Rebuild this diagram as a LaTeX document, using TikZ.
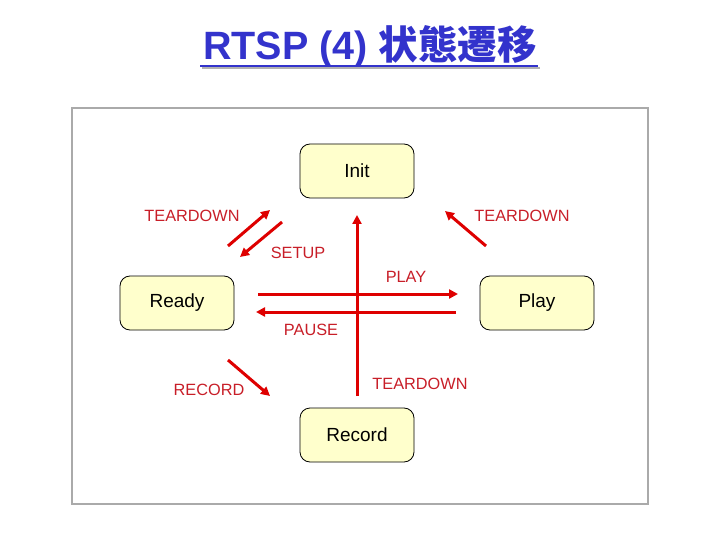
\documentclass[tikz,border=0pt]{standalone}
\usepackage{fontspec}
\setmainfont{Liberation Sans}
\newfontfamily\cjkfont{Noto Sans CJK JP}
\usetikzlibrary{arrows.meta,shadows}
\definecolor{boxfill}{RGB}{255,255,204}
\definecolor{arrowred}{RGB}{222,0,0}
\definecolor{labelred}{RGB}{200,30,40}
\definecolor{titleblue}{RGB}{51,51,204}
\definecolor{framegray}{RGB}{170,170,170}
\tikzset{
  statebox/.style={draw=black, line width=0.8pt, fill=boxfill, rounded corners=10pt,
    minimum width=114pt, minimum height=54pt, inner sep=0pt, font=\fontsize{19}{22}\selectfont},
  tr/.style={draw=arrowred, line width=3pt, -{Triangle[length=9pt,width=9pt]}},
  lbl/.style={text=labelred, font=\fontsize{16.3}{19}\selectfont, inner sep=0pt},
}
\begin{document}
\begin{tikzpicture}[x=1pt,y=-1pt]
\useasboundingbox (0,0) rectangle (720,540);
\fill[white] (0,0) rectangle (720,540);
% frame
\draw[framegray, line width=1.2pt] (72,108) rectangle (648,504);
% title
\node (title) [text=titleblue, font=\bfseries\fontsize{39.5}{44}\selectfont, inner sep=0pt] at (370,47) {RTSP (4) {\cjkfont 状態遷移}};
\draw[gray!60, line width=2pt] (202,68) -- (540,68);
\draw[titleblue, line width=2pt] (200,66) -- (538,66);
% states
\node[statebox] (init) at (357,171) {Init};
\node[statebox] (ready) at (177,303) {Ready};
\node[statebox] (play) at (537,303) {Play};
\node[statebox] (record) at (357,435) {Record};
% arrow endpoints
\coordinate (tdls) at (228,246); \coordinate (tdle) at (270,210);
\coordinate (sus) at (282,222); \coordinate (sue) at (240,257);
\coordinate (tdvs) at (357,396); \coordinate (tdve) at (357,215);
\coordinate (tdrs) at (486,246); \coordinate (tdre) at (445,211);
\coordinate (pls) at (258,294); \coordinate (ple) at (458,294);
\coordinate (pas) at (456,312); \coordinate (pae) at (256,312);
\coordinate (rcs) at (228,360); \coordinate (rce) at (270,396);
% arrows
\draw[tr] (tdls) -- (tdle);
\draw[tr] (sus) -- (sue);
\draw[tr] (tdvs) -- (tdve);
\draw[tr] (tdrs) -- (tdre);
\draw[tr] (pls) -- (ple);
\draw[tr] (pas) -- (pae);
\draw[tr] (rcs) -- (rce);
% labels
\node[lbl] (l1) at (192,216) {TEARDOWN};
\node[lbl] (l2) at (522,216) {TEARDOWN};
\node[lbl] (l3) at (298,253) {SETUP};
\node[lbl] (l4) at (406,277) {PLAY};
\node[lbl] (l5) at (311,330) {PAUSE};
\node[lbl] (l6) at (209,390) {RECORD};
\node[lbl] (l7) at (420,384) {TEARDOWN};
\end{tikzpicture}
\end{document}
